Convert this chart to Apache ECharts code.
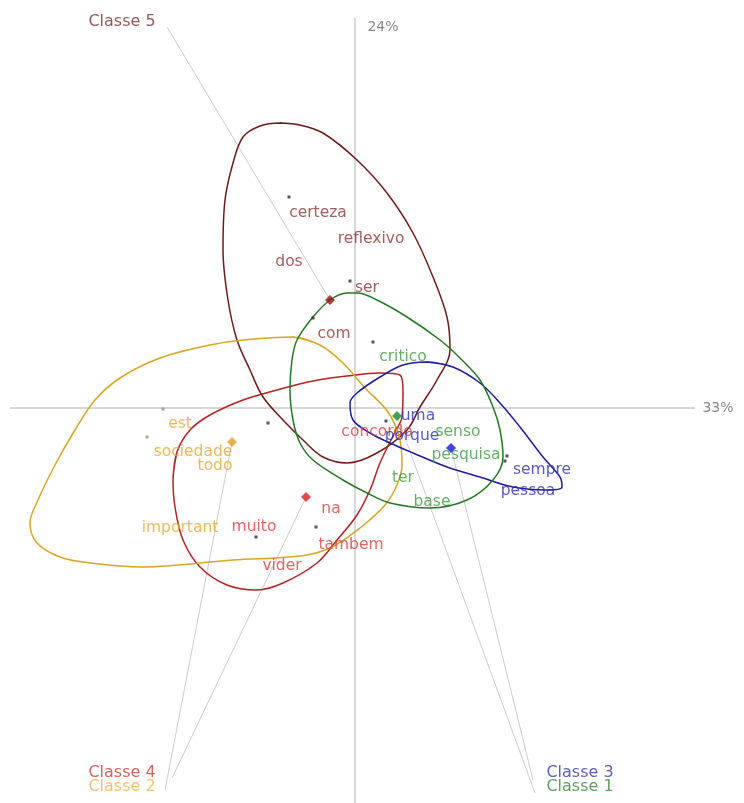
<!DOCTYPE html>
<html>
<head>
<meta charset="utf-8">
<script src="https://cdn.jsdelivr.net/npm/echarts@6/dist/echarts.min.js"></script>
<style>html,body{margin:0;padding:0;background:#fff}#c{width:744px;height:803px}</style>
</head>
<body>
<div id="c"></div>
<script>
// Factor coordinates (factor 1 = horizontal, 33%; factor 2 = vertical, 24%)
const axisTitles = ['33%', '24%'];
const axisH = [[-3.45, 0], [3.40, 0]];
const axisV = [[0, 3.90], [0, -3.95]];

// Class contours
const contour5 = [[-0.75,2.85],[-0.55,2.83],[-0.32,2.75],[0.02,2.48],[0.32,2.15],[0.58,1.75],[0.78,1.31],[0.92,0.91],[0.95,0.58],[0.82,0.28],[0.65,0.01],[0.52,-0.22],[0.22,-0.45],[-0.08,-0.55],[-0.32,-0.49],[-0.52,-0.32],[-0.72,-0.12],[-0.92,0.11],[-1.05,0.38],[-1.18,0.68],[-1.27,1.08],[-1.32,1.58],[-1.30,2.08],[-1.22,2.45],[-1.12,2.71],[-0.95,2.82]];
const contour1 = [[-0.08,1.15],[0.02,1.15],[0.22,1.08],[0.52,0.91],[0.85,0.68],[1.05,0.50],[1.25,0.28],[1.38,0.01],[1.45,-0.22],[1.48,-0.49],[1.38,-0.72],[1.12,-0.92],[0.75,-1.00],[0.35,-0.95],[0.12,-0.85],[-0.12,-0.72],[-0.42,-0.52],[-0.55,-0.35],[-0.62,-0.12],[-0.65,0.18],[-0.63,0.48],[-0.58,0.68],[-0.42,0.91],[-0.25,1.08]];
const contour3 = [[0.72,0.46],[0.98,0.41],[1.25,0.25],[1.45,0.05],[1.65,-0.19],[1.88,-0.49],[2.05,-0.69],[2.07,-0.79],[1.92,-0.82],[1.58,-0.79],[1.25,-0.69],[0.92,-0.59],[0.58,-0.45],[0.35,-0.35],[0.15,-0.25],[-0.02,-0.12],[-0.05,0.05],[0.02,0.15],[0.25,0.31],[0.48,0.43]];
const contour4 = [[-1.82,-0.72],[-1.78,-0.44],[-1.65,-0.22],[-1.45,-0.07],[-1.12,0.08],[-0.78,0.18],[-0.42,0.27],[-0.08,0.32],[0.25,0.35],[0.45,0.33],[0.48,0.16],[0.47,-0.09],[0.40,-0.24],[0.25,-0.55],[0.15,-0.82],[0.02,-1.07],[-0.18,-1.32],[-0.38,-1.55],[-0.72,-1.75],[-0.98,-1.82],[-1.28,-1.77],[-1.55,-1.59],[-1.72,-1.32],[-1.80,-0.99]];
const contour2 = [[-0.62,0.71],[-0.35,0.63],[-0.12,0.45],[0.10,0.20],[0.33,-0.04],[0.45,-0.32],[0.47,-0.57],[0.42,-0.77],[0.30,-0.97],[0.05,-1.20],[-0.25,-1.40],[-0.55,-1.48],[-1.22,-1.52],[-2.12,-1.59],[-2.65,-1.55],[-2.95,-1.49],[-3.18,-1.35],[-3.25,-1.15],[-3.17,-0.92],[-3.00,-0.57],[-2.80,-0.22],[-2.60,0.08],[-2.35,0.30],[-1.95,0.50],[-1.45,0.63],[-1.12,0.68]];

// Class centroids
const classNames = ['Classe 5', 'Classe 4', 'Classe 2', 'Classe 3', 'Classe 1'];
const centroids = [[-0.25,1.08],[-0.49,-0.89],[-1.23,-0.34],[0.96,-0.40],[0.42,-0.08]];
const classLabelPos = [[-2.33,3.86],[-2.33,-3.65],[-2.33,-3.79],[2.25,-3.65],[2.25,-3.79]];
const leaderEnds = [[-1.88,3.81],[-1.83,-3.70],[-1.90,-3.82],[1.78,-3.72],[1.80,-3.85]];

// Word positions per class
const words5 = [['certeza',-0.37,1.95],['reflexivo',0.16,1.69],['dos',-0.66,1.46],['ser',0.12,1.20],['com',-0.21,0.74]];
const words1 = [['critico',0.48,0.51],['senso',1.03,-0.24],['pesquisa',1.11,-0.47],['ter',0.48,-0.70],['base',0.77,-0.94]];
const words3 = [['uma',0.63,-0.08],['porque',0.57,-0.28],['sempre',1.87,-0.62],['pessoa',1.73,-0.83]];
const words4 = [['concordo',0.22,-0.24],['na',-0.24,-1.01],['muito',-1.01,-1.19],['tambem',-0.04,-1.37],['vider',-0.73,-1.58]];
const words2 = [['est',-1.75,-0.16],['sociedade',-1.62,-0.44],['todo',-1.40,-0.58],['important',-1.75,-1.20]];

// Word point markers
const pointsDark = [[-0.66,2.11],[-0.05,1.27],[-0.42,0.90],[0.18,0.66],[-0.87,-0.15],[-0.99,-1.29],[-0.39,-1.19],[0.31,-0.13],[1.52,-0.48],[1.50,-0.53]];
const pointsLight = [[-1.92,-0.01],[-2.08,-0.29]];

const classColors   = ['#6e1a1a', '#b42222', '#d9a522', '#1c1c9c', '#217a21'];
const centroidColors= ['#8b1212', '#e01e1e', '#e0a020', '#1515d8', '#1f8a1f'];
const textColors    = ['#8c3535', '#e03a3a', '#e6a636', '#2e2eb4', '#3c9c3c'];
const classTextColors = ['#7a2c2c', '#cc3a3a', '#e8b448', '#3434a0', '#348a34'];
const FONT = 'DejaVu Sans';

const series = [];
// leader lines
centroids.forEach((c, i) => {
  series.push({type:'line', data:[c, leaderEnds[i]], symbol:'none', silent:true, z:1,
    lineStyle:{color:'#cccccc', width:1}});
});
// axes cross
[axisH, axisV].forEach(a => series.push({type:'line', data:a, symbol:'none', silent:true, z:1,
  lineStyle:{color:'#b0b0b0', width:1}}));
// contours
const contours = [contour5, contour4, contour2, contour3, contour1];
contours.forEach((ct, i) => {
  series.push({type:'line', data:ct.concat([ct[0], ct[1]]), symbol:'none', smooth:0.35, silent:true, z:2,
    lineStyle:{color:classColors[i], width:1.5}});
});
// points
series.push({type:'scatter', data:pointsDark, symbol:'rect', symbolSize:3, z:3, itemStyle:{color:'#2a2a2a'}});
series.push({type:'scatter', data:pointsLight, symbol:'rect', symbolSize:3, z:3, itemStyle:{color:'#a09070'}});
// word labels
const wordSets = [words5, words4, words2, words3, words1];
wordSets.forEach((ws, i) => {
  series.push({type:'scatter', symbolSize:0, z:4,
    data: ws.map(w => ({name:w[0], value:[w[1], w[2]]})),
    label:{show:true, position:'inside', formatter:'{b}', color:textColors[i], fontFamily:FONT, fontSize:15.5}});
});
// centroids
centroids.forEach((c, i) => {
  series.push({type:'scatter', data:[c], symbol:'diamond', symbolSize:10, z:5,
    itemStyle:{color:centroidColors[i]}});
});
// class labels
series.push({type:'scatter', symbolSize:0, z:6,
  data: classNames.map((n, i) => ({name:n, value:classLabelPos[i],
    label:{color:classTextColors[i]}})),
  label:{show:true, position:'inside', formatter:'{b}', fontFamily:FONT, fontSize:16}});
// axis titles
series.push({type:'scatter', symbolSize:0, z:6,
  data:[{name:axisTitles[0], value:[3.63,0]}, {name:axisTitles[1], value:[0.28,3.81]}],
  label:{show:true, position:'inside', formatter:'{b}', color:'#666', fontFamily:FONT, fontSize:14}});

const chart = echarts.init(document.getElementById('c'), null, {renderer:'canvas'});
chart.setOption({
  animation:false,
  backgroundColor:'#ffffff',
  grid:{left:0, right:0, top:0, bottom:0},
  xAxis:{type:'value', min:-3.55, max:3.89, show:false},
  yAxis:{type:'value', min:-3.95, max:4.08, show:false},
  series: series
});
</script>
</body>
</html>
